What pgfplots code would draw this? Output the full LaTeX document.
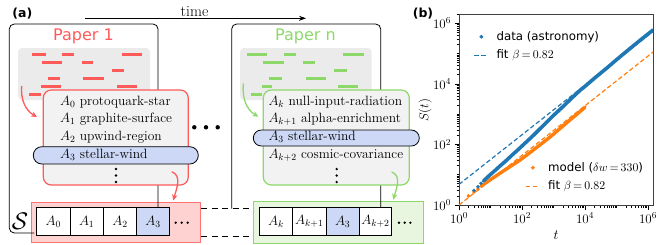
\RequirePackage{fix-cm}
\documentclass[border=0pt]{standalone}
\usepackage{fontspec}
\usepackage{pgfplots}
\pgfplotsset{compat=1.18}
\usetikzlibrary{arrows.meta}
\newfontfamily\dejavu{DejaVu Sans}
\definecolor{mplblue}{HTML}{1F77B4}
\definecolor{mplorange}{HTML}{FF7F0E}
\definecolor{pred}{HTML}{FF5A5A}
\definecolor{pgreen}{HTML}{8CD96A}
\definecolor{pinkfill}{HTML}{FFD2D2}
\definecolor{greenfill}{HTML}{E8F5DF}
\definecolor{boxgray}{HTML}{F2F2F2}
\definecolor{areagray}{HTML}{EBEBEB}
\definecolor{cellblue}{HTML}{CCD8F5}
\newcommand\lt{\fontsize{13.5}{16}\selectfont}
\tikzset{dashfit/.style={line width=1.2pt, dash pattern=on 4.5pt off 2.5pt}}
\pgfplotsset{
  bluedot/.style={legend image code/.code={\path (0pt,0pt) (20pt,0pt); \fill[mplblue] (7pt,0pt) circle (1.7pt);}},
  bluedash/.style={legend image code/.code={\path (0pt,0pt) (20pt,0pt); \draw[mplblue, dashfit] (0pt,0pt) -- (14pt,0pt);}},
  orangedot/.style={legend image code/.code={\path (0pt,0pt) (20pt,0pt); \fill[mplorange] (7pt,0pt) circle (1.7pt);}},
  orangedash/.style={legend image code/.code={\path (0pt,0pt) (20pt,0pt); \draw[mplorange, dashfit] (0pt,0pt) -- (14pt,0pt);}},
}
\begin{document}
\begin{tikzpicture}
\useasboundingbox (0,0) rectangle (667pt,-244pt);
\begin{scope}[x=1pt,y=1pt]
% labels
\node[font=\dejavu\bfseries\fontsize{12.5}{14}\selectfont] at (22.3,-13.3) {(a)};
\node[font=\dejavu\bfseries\fontsize{12.5}{14}\selectfont] at (423,-13.3) {(b)};
\node[anchor=base, inner sep=0pt, font=\fontsize{15.5}{17}\selectfont] at (194.5,-16) {time};
\draw[line width=0.9pt, -{Stealth[length=7pt,width=5pt]}] (85,-18.3) -- (306,-18.3);
% strips
\draw[pred!85, fill=pinkfill, line width=1pt] (31.7,-202.5) rectangle (200,-242.7);
\draw[pgreen, fill=greenfill, line width=1pt] (253.3,-201.5) rectangle (423.3,-243);
% paper boxes
\draw[line width=0.8pt, rounded corners=5pt] (34,-233) -- (9.3,-233) -- (9.3,-24) -- (158,-24) -- (158,-208);
\draw[line width=0.8pt, rounded corners=5pt] (231.7,-208.5) -- (231.7,-24) -- (380.7,-24) -- (380.7,-208);
% dashed connections
\draw[line width=0.9pt, dash pattern=on 6pt off 4.5pt] (201,-208) -- (253,-208);
\draw[line width=0.9pt, dash pattern=on 6pt off 4.5pt] (201,-236.3) -- (253,-236.3);
% gray text areas
\fill[areagray, rounded corners=4pt] (18,-48) rectangle (150,-100);
\fill[areagray, rounded corners=4pt] (240,-48) rectangle (371.7,-100);
% text lines (red)
\begin{scope}[line width=3pt, pred]
\draw (31.7,-54.3)--(46,-54.3) (61.7,-54.3)--(74,-54.3) (121.7,-54.3)--(141.7,-54.3);
\draw (41.7,-62.7)--(61.7,-62.7) (81.7,-62.7)--(93.3,-62.7);
\draw (112.3,-70.7)--(124,-70.7);
\draw (48.3,-78.8)--(60,-78.8) (83.3,-78.8)--(104,-78.8);
\draw (40.7,-86.5)--(60.7,-86.5) (116.7,-86.5)--(136.7,-86.5);
\draw (29.3,-94.3)--(40.7,-94.3);
\end{scope}
% text lines (green)
\begin{scope}[line width=3pt, pgreen]
\draw (246.7,-54.3)--(267.3,-54.3) (284,-54.3)--(296,-54.3) (343.3,-54.3)--(364,-54.3);
\draw (262.7,-62.7)--(284,-62.7) (303.3,-62.7)--(315,-62.7);
\draw (334.3,-70.7)--(346.7,-70.7);
\draw (269.3,-78.8)--(281.7,-78.8) (306,-78.8)--(326,-78.8);
\draw (261.7,-86.5)--(271.7,-86.5) (338.3,-86.5)--(358.3,-86.5);
\draw (250.7,-94.3)--(261.7,-94.3);
\end{scope}
% titles
\node[anchor=base, inner sep=0pt, pred, font=\dejavu\fontsize{16}{18}\selectfont] at (83.5,-40.5) {Paper 1};
\node[anchor=base, inner sep=0pt, pgreen, font=\dejavu\fontsize{16}{18}\selectfont] at (305.5,-40.5) {Paper n};
% list boxes
\draw[pred, line width=1.2pt, fill=boxgray, rounded corners=8pt] (43.3,-90) rectangle (188.3,-185);
\draw[pgreen, line width=1.2pt, fill=boxgray, rounded corners=8pt] (263.3,-90) rectangle (409.3,-185);
% highlight pills
\draw[line width=0.8pt, fill=cellblue, rounded corners=8.5pt] (33.3,-146.7) rectangle (198.3,-164);
\draw[line width=0.8pt, fill=cellblue, rounded corners=8pt] (253.3,-130) rectangle (419.3,-146);
% list text
\begin{scope}[every node/.style={anchor=base west, inner sep=0pt, font=\lt}]
\node at (60,-105) {$A_0$ protoquark-star};
\node at (60,-122.5) {$A_1$ graphite-surface};
\node at (60,-140) {$A_2$ upwind-region};
\node at (60,-158.5) {$A_3$ stellar-wind};
\node at (268.3,-105) {$A_k$ null-input-radiation};
\node at (268.3,-122.5) {$A_{k+1}$ alpha-enrichment};
\node at (268.3,-140) {$A_3$ stellar-wind};
\node at (268.3,-158.5) {$A_{k+2}$ cosmic-covariance};
\end{scope}
% vertical dots
\foreach \yy in {169,175.5,182} {
  \fill (116,-\yy) circle (1.3pt);
  \fill (336.7,-\yy) circle (1.3pt);
}
% arrows
\draw[pred, line width=1.3pt, -{Stealth[length=6pt,width=5.5pt]}] (21.7,-86) to[out=-95,in=150] (37,-117);
\draw[pred, line width=1.3pt, -{Stealth[length=6pt,width=5.5pt]}] (171.7,-171.7) to[out=-20,in=75] (173.3,-200.5);
\draw[pgreen, line width=1.3pt, -{Stealth[length=6pt,width=5.5pt]}] (243.3,-83.3) to[out=-95,in=150] (258.5,-116.7);
\draw[pgreen, line width=1.3pt, -{Stealth[length=6pt,width=5.5pt]}] (391.7,-172) to[out=-20,in=75] (393.3,-199.8);
% cells (red strip)
\fill[white] (36.7,-207.3) rectangle (136.7,-235.7);
\fill[cellblue] (136.7,-207.3) rectangle (169.3,-235.7);
\draw[line width=1pt] (36.7,-207.3) rectangle (169.3,-235.7);
\draw[line width=1pt] (70,-207.3) -- (70,-235.7) (103.3,-207.3) -- (103.3,-235.7) (136.7,-207.3) -- (136.7,-235.7);
\node[font=\lt] at (53.3,-221.5) {$A_0$};
\node[font=\lt] at (86.7,-221.5) {$A_1$};
\node[font=\lt] at (120,-221.5) {$A_2$};
\node[font=\lt] at (153,-221.5) {$A_3$};
% cells (green strip)
\fill[white] (259.3,-207.3) rectangle (391.7,-235.7);
\fill[cellblue] (326,-207.3) rectangle (359.3,-235.7);
\draw[line width=1pt] (259.3,-207.3) rectangle (391.7,-235.7);
\draw[line width=1pt] (292.7,-207.3) -- (292.7,-235.7) (326,-207.3) -- (326,-235.7) (359.3,-207.3) -- (359.3,-235.7);
\node[font=\lt] at (276,-221.5) {$A_k$};
\node[font=\lt] at (309.3,-221.5) {$A_{k+1}$};
\node[font=\lt] at (342.7,-221.5) {$A_3$};
\node[font=\lt] at (375.5,-221.5) {$A_{k+2}$};
% horizontal dots
\foreach \xx in {175.7,181.7,187.7,399,404.7,410.4} {\fill (\xx,-222.7) circle (1.3pt);}
% big dots between papers
\foreach \xx in {194.3,206,217.7} {\fill (\xx,-127.3) circle (2.2pt);}
% S label
\node[font=\fontsize{24}{26}\selectfont] at (20,-221) {$\mathcal{S}$};
\end{scope}

% ---------- panel (b) ----------
\begin{axis}[
  at={(459pt,-205pt)}, anchor=south west, scale only axis,
  width=194pt, height=191pt,
  xmode=log, ymode=log, xmin=1, xmax=1.44e6, ymin=1, ymax=2.04e6,
  xtick={1,100,10000,1000000}, ytick={1,100,10000,1000000},
  minor xtick={2,3,4,5,6,7,8,9,10,20,30,40,50,60,70,80,90,200,300,400,500,600,700,800,900,1e3,2e3,3e3,4e3,5e3,6e3,7e3,8e3,9e3,2e4,3e4,4e4,5e4,6e4,7e4,8e4,9e4,1e5,2e5,3e5,4e5,5e5,6e5,7e5,8e5,9e5},
  minor ytick={2,3,4,5,6,7,8,9,10,20,30,40,50,60,70,80,90,200,300,400,500,600,700,800,900,1e3,2e3,3e3,4e3,5e3,6e3,7e3,8e3,9e3,2e4,3e4,4e4,5e4,6e4,7e4,8e4,9e4,1e5,2e5,3e5,4e5,5e5,6e5,7e5,8e5,9e5,2e6},
  tick pos=left, tick align=outside,
  major tick length=4.5pt, minor tick length=2.5pt,
  every tick/.style={black, line width=0.7pt},
  axis line style={black!75, line width=0.8pt},
  tick label style={font=\fontsize{13}{15}\selectfont},
  xlabel={$t$}, ylabel={$S(t)$},
  xlabel style={font=\fontsize{14}{16}\selectfont},
  ylabel style={font=\fontsize{13}{15}\selectfont, at={(rel axis cs:-0.175,0.497)}, anchor=center},
  legend cell align=left,
  legend style={at={(0.075,0.92)}, anchor=north west, draw=none, fill=none,
    inner sep=0pt, row sep=4pt, font=\dejavu\fontsize{11.8}{13}\selectfont},
]
\addplot[mplorange, dashfit, forget plot] coordinates {(1,1) (2e6,146800)};
\addplot[mplblue, dashfit, forget plot] coordinates {(1,4.79) (2e6,703000)};
\addplot[mplorange, only marks, mark=*, mark size=1.6pt, forget plot] coordinates {(2,2) (3,2.7) (4,3.4)};
\addplot[mplorange, line width=3.4pt, line cap=round, line join=round, forget plot] coordinates {
(5,4.17) (6,4.79) (8,5.89) (10,6.92) (15,9.12) (20,11.2) (30,14.8) (50,20.9) (70,26.3) (100,33.9)
(150,46.8) (200,58.9) (300,81.3) (500,123) (700,162) (1000,219) (1500,316) (2000,407) (3000,589)
(5000,912) (7000,1230) (10000,1698)};
\addplot[mplblue, only marks, mark=*, mark size=1.6pt, forget plot] coordinates {(3,3) (4,4) (5,5.2)};
\addplot[mplblue, line width=3.6pt, line cap=round, line join=round, forget plot] coordinates {
(6,6.3) (7,7.2) (8,8.3) (10,10.2) (15,14.8) (20,19.5) (30,28) (50,46) (70,63) (100,89) (150,132)
(200,174) (300,263) (500,447) (700,631) (1000,912) (1500,1349) (2000,1778) (3000,2692) (5000,4467)
(7000,6166) (10000,8318) (20000,15490) (50000,33884) (1e5,63096) (2e5,114815) (5e5,251189)
(1e6,446684) (1.44e6,602560)};
\addlegendimage{bluedot}
\addlegendentry{data (astronomy)}
\addlegendimage{bluedash}
\addlegendentry{fit $\beta\,{=}\,0.82$}
\end{axis}
\begin{axis}[
  at={(459pt,-205pt)}, anchor=south west, scale only axis,
  width=194pt, height=191pt,
  xmode=log, ymode=log, xmin=1, xmax=1.44e6, ymin=1, ymax=2.04e6,
  hide axis,
  legend cell align=left,
  legend style={at={(0.96,0.06)}, anchor=south east, draw=none, fill=none,
    inner sep=0pt, row sep=4pt, font=\dejavu\fontsize{11.8}{13}\selectfont},
]
\addplot[draw=none, forget plot] coordinates {(10,10)};
\addlegendimage{orangedot}
\addlegendentry{model ($\delta w\,{=}\,330$)}
\addlegendimage{orangedash}
\addlegendentry{fit $\beta\,{=}\,0.82$}
\end{axis}
\end{tikzpicture}
\end{document}
